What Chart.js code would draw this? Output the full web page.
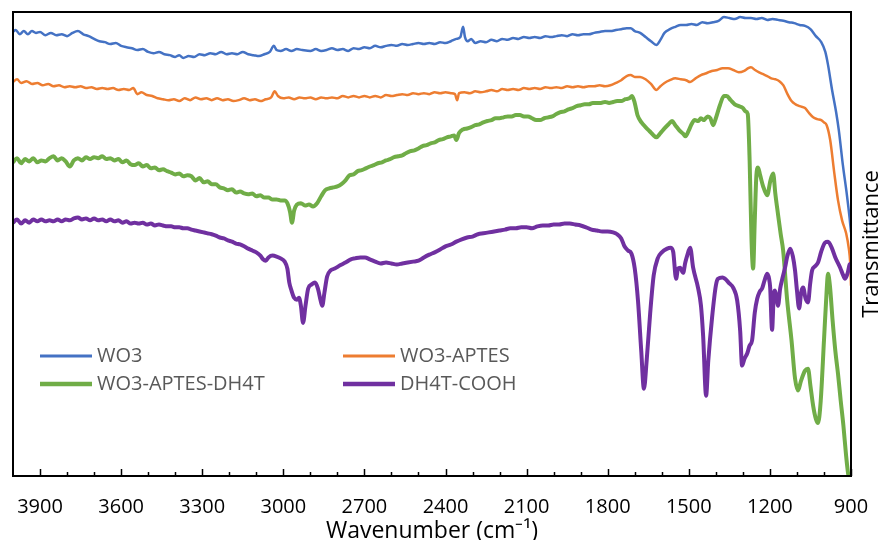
<!DOCTYPE html>
<html>
<head>
<meta charset="utf-8">
<title>FTIR spectra</title>
<script src="https://cdn.jsdelivr.net/npm/chart.js@4.4.0/dist/chart.umd.min.js"></script>
<style>
  html, body { margin: 0; padding: 0; background: #fff; }
  #wrap { width: 885px; height: 540px; }
</style>
</head>
<body>
<div id="wrap"><canvas id="ftir"></canvas></div>
<script>
// [wavenumber cm-1, transmittance a.u.]
const wo3Spectrum = [
  [4000,95.7],[3990,96.1],[3975,95.2],[3960,95.9],[3945,95.2],[3930,95.9],[3915,95.5],[3900,95.7],
  [3880,95.0],[3860,95.5],[3840,95.0],[3820,95.2],[3800,94.8],[3780,95.5],[3760,95.9],[3740,95.2],
  [3720,94.8],[3700,94.2],[3680,93.7],[3660,93.5],[3640,93.1],[3620,93.3],[3600,92.7],[3580,92.4],
  [3560,92.2],[3540,91.8],[3520,92.0],[3500,91.4],[3480,91.1],[3460,91.4],[3440,90.9],[3420,90.7],
  [3400,90.3],[3385,90.7],[3370,90.1],[3350,90.5],[3330,90.3],[3310,90.9],[3290,90.7],[3270,91.1],
  [3250,90.9],[3230,91.4],[3210,90.9],[3190,91.1],[3170,90.9],[3150,91.4],[3130,90.9],[3110,90.7],
  [3090,90.5],[3070,90.9],[3050,91.4],[3035,92.7],[3025,91.8],[3010,91.6],[2990,92.0],[2970,91.6],
  [2950,92.0],[2930,91.8],[2900,91.6],[2880,92.0],[2860,91.6],[2840,91.8],[2820,92.2],[2800,91.8],
  [2780,92.0],[2760,91.6],[2740,92.2],[2720,92.0],[2700,92.4],[2680,92.2],[2660,92.7],[2640,92.4],
  [2620,92.7],[2600,92.9],[2580,92.7],[2560,93.1],[2540,92.9],[2520,93.1],[2500,93.3],[2480,93.1],
  [2460,93.3],[2440,93.1],[2420,93.5],[2400,93.3],[2380,93.7],[2360,94.2],[2345,94.6],[2335,96.8],
  [2328,94.6],[2318,93.7],[2305,94.2],[2290,93.3],[2270,93.7],[2250,93.5],[2230,94.0],[2210,93.7],
  [2190,94.2],[2170,94.0],[2150,94.4],[2130,94.2],[2110,94.6],[2090,94.4],[2070,94.6],[2050,94.4],
  [2030,94.8],[2010,94.6],[1990,94.8],[1970,95.0],[1950,94.8],[1930,95.2],[1910,95.0],[1890,95.2],
  [1870,95.2],[1850,95.5],[1830,95.7],[1810,95.9],[1790,95.9],[1770,96.1],[1750,96.3],[1730,96.5],
  [1715,96.5],[1700,95.9],[1680,95.5],[1660,94.6],[1640,93.7],[1620,92.9],[1605,94.0],[1590,95.5],
  [1570,96.3],[1550,96.8],[1530,97.2],[1510,97.2],[1490,97.4],[1470,97.2],[1450,97.8],[1430,97.6],
  [1410,97.8],[1390,98.1],[1370,98.9],[1350,98.7],[1330,98.5],[1310,98.9],[1290,98.7],[1270,98.7],
  [1250,98.5],[1230,98.7],[1210,98.3],[1190,98.5],[1170,98.3],[1150,98.1],[1130,97.8],[1110,97.6],
  [1090,97.2],[1070,97.0],[1050,96.3],[1030,94.8],[1010,93.5],[995,91.4],[985,88.6],[970,83.2],
  [955,78.4],[945,74.5],[930,67.0],[915,60.5],[905,55.5],[900,52.5]
];

const wo3AptesSpectrum = [
  [4000,84.9],[3985,85.5],[3970,84.7],[3950,85.1],[3930,84.5],[3910,84.7],[3890,84.2],[3870,84.5],
  [3850,84.0],[3830,84.2],[3810,83.8],[3790,84.0],[3770,83.8],[3750,84.0],[3730,83.6],[3710,83.8],
  [3690,83.4],[3670,83.6],[3650,83.4],[3630,83.6],[3610,83.2],[3590,83.4],[3570,83.2],[3555,83.6],
  [3540,82.3],[3525,82.7],[3505,82.1],[3485,81.9],[3465,81.4],[3445,81.2],[3425,81.0],[3405,81.2],
  [3385,80.8],[3365,81.4],[3345,81.0],[3325,81.6],[3305,81.2],[3285,81.4],[3265,81.0],[3245,81.4],
  [3225,81.0],[3205,81.2],[3185,80.8],[3165,81.0],[3145,81.4],[3125,81.0],[3105,81.2],[3085,80.8],
  [3065,81.2],[3045,81.6],[3032,82.9],[3020,81.9],[3000,81.4],[2980,81.6],[2960,81.2],[2940,81.6],
  [2920,81.4],[2900,81.6],[2880,81.2],[2860,81.6],[2840,81.4],[2820,81.6],[2800,81.4],[2780,81.9],
  [2760,81.6],[2740,81.9],[2720,81.6],[2700,81.9],[2680,81.6],[2660,81.9],[2640,81.6],[2620,82.1],
  [2600,81.9],[2580,82.1],[2560,82.3],[2540,82.1],[2520,82.5],[2500,82.3],[2480,82.5],[2460,82.3],
  [2440,82.7],[2420,82.5],[2400,82.7],[2380,82.5],[2365,82.3],[2357,81.0],[2350,82.5],[2330,82.7],
  [2310,82.5],[2290,82.9],[2270,82.7],[2250,82.9],[2230,83.2],[2210,82.9],[2190,83.4],[2170,83.2],
  [2150,83.4],[2130,83.2],[2110,83.6],[2090,83.4],[2070,83.6],[2050,83.4],[2030,83.8],[2010,83.6],
  [1990,83.8],[1970,83.6],[1950,84.0],[1930,83.8],[1910,84.0],[1890,83.8],[1870,84.0],[1850,84.0],
  [1830,84.2],[1810,84.0],[1790,84.2],[1770,84.7],[1750,85.3],[1730,86.2],[1715,86.4],[1700,86.0],
  [1680,86.0],[1660,85.5],[1640,84.5],[1620,83.2],[1605,84.0],[1590,84.7],[1570,85.3],[1550,85.7],
  [1530,85.5],[1510,85.3],[1495,84.9],[1475,85.7],[1455,86.4],[1435,86.8],[1415,87.3],[1395,87.5],
  [1375,87.9],[1355,87.9],[1335,87.5],[1315,87.0],[1295,87.3],[1280,87.9],[1270,88.1],[1255,87.5],
  [1240,87.0],[1225,86.6],[1210,86.2],[1195,85.7],[1180,85.5],[1165,85.1],[1150,84.2],[1135,82.3],
  [1120,80.8],[1105,80.1],[1090,79.7],[1070,79.3],[1055,78.2],[1040,77.3],[1025,76.9],[1010,76.7],
  [1000,76.2],[990,75.6],[977,72.4],[962,65.4],[948,59.4],[933,55.1],[918,52.3],[908,49.0],
  [903,46.0],[900,41.0]
];

const wo3AptesDh4tSpectrum = [
  [4000,67.6],[3985,68.5],[3970,67.4],[3955,68.3],[3940,67.8],[3925,68.5],[3910,67.6],[3895,68.0],
  [3880,67.8],[3865,68.5],[3850,68.9],[3835,68.0],[3820,68.5],[3805,67.8],[3790,66.7],[3775,68.0],
  [3760,68.5],[3745,68.0],[3730,68.7],[3715,68.3],[3700,68.7],[3685,68.5],[3670,68.9],[3655,68.3],
  [3640,68.5],[3625,68.0],[3610,68.3],[3595,67.6],[3580,68.0],[3565,67.2],[3550,67.0],[3535,67.4],
  [3520,66.7],[3505,67.0],[3490,66.3],[3475,66.5],[3460,65.9],[3445,66.1],[3430,65.7],[3415,65.4],
  [3400,65.0],[3385,65.2],[3370,64.6],[3355,64.8],[3340,64.6],[3325,63.7],[3310,64.2],[3295,63.3],
  [3280,63.5],[3265,62.9],[3250,62.9],[3235,62.2],[3220,62.0],[3205,61.6],[3190,61.8],[3175,61.1],
  [3160,61.3],[3145,60.9],[3130,60.7],[3115,60.9],[3100,60.3],[3085,60.5],[3070,60.0],[3055,60.0],
  [3040,59.6],[3025,59.6],[3010,59.4],[2995,59.4],[2985,58.8],[2975,56.9],[2968,54.6],[2960,57.2],
  [2950,58.5],[2935,58.8],[2920,58.3],[2905,58.5],[2890,58.1],[2875,58.8],[2860,60.3],[2845,61.6],
  [2830,62.0],[2815,62.2],[2800,62.4],[2785,62.9],[2770,63.7],[2755,64.8],[2740,65.0],[2725,65.7],
  [2710,65.9],[2695,66.3],[2680,66.7],[2665,67.0],[2650,67.4],[2635,67.6],[2620,68.0],[2605,68.3],
  [2590,68.7],[2575,68.9],[2560,69.1],[2545,69.6],[2530,70.0],[2515,70.2],[2500,70.6],[2485,71.1],
  [2470,71.3],[2455,71.7],[2440,71.9],[2425,72.4],[2410,72.6],[2395,73.0],[2380,73.2],[2368,73.4],
  [2360,72.4],[2350,73.9],[2335,74.7],[2320,74.9],[2305,75.2],[2290,75.6],[2275,75.8],[2260,76.2],
  [2245,76.5],[2230,76.7],[2215,77.1],[2200,77.1],[2185,77.3],[2170,77.5],[2155,77.5],[2140,77.8],
  [2125,77.8],[2110,77.5],[2095,77.5],[2080,77.1],[2065,76.7],[2050,76.7],[2035,77.1],[2020,77.3],
  [2005,77.5],[1990,78.0],[1975,78.4],[1960,78.6],[1945,79.0],[1930,79.3],[1915,79.7],[1900,79.9],
  [1885,80.1],[1870,80.1],[1855,80.4],[1840,80.4],[1825,80.4],[1810,80.6],[1795,80.4],[1780,80.6],
  [1765,80.8],[1750,80.8],[1735,81.2],[1720,81.4],[1710,81.9],[1700,80.4],[1690,77.8],[1675,76.2],
  [1660,75.2],[1645,74.3],[1630,73.4],[1620,73.0],[1605,73.9],[1590,74.9],[1575,75.8],[1562,76.5],
  [1550,75.6],[1535,74.5],[1520,73.7],[1512,73.2],[1500,74.5],[1490,75.8],[1478,76.7],[1465,76.5],
  [1455,77.1],[1445,76.7],[1430,77.5],[1420,77.1],[1410,75.6],[1400,77.1],[1385,79.9],[1370,81.9],
  [1360,81.9],[1345,81.0],[1330,80.1],[1315,79.7],[1300,79.3],[1290,78.6],[1282,78.0],[1275,68.0],
  [1268,50.8],[1262,44.7],[1256,55.1],[1250,64.8],[1244,66.5],[1236,64.8],[1226,62.6],[1210,60.5],
  [1198,63.7],[1188,65.2],[1180,60.9],[1170,56.4],[1160,52.1],[1151,48.6],[1136,37.8],[1120,29.2],
  [1107,21.0],[1096,18.4],[1085,20.5],[1070,22.7],[1059,23.1],[1050,19.4],[1040,15.1],[1030,12.3],
  [1022,11.4],[1012,16.2],[1000,29.2],[990,40.0],[985,43.6],[978,41.0],[968,33.5],[958,27.0],
  [948,22.0],[938,16.2],[928,10.8],[918,4.3],[912,1.1],[908,-0.5]
];

const dh4tCoohSpectrum = [
  [4000,54.6],[3985,55.3],[3970,54.4],[3955,55.1],[3940,54.6],[3925,55.3],[3910,54.9],[3895,55.3],
  [3880,54.9],[3865,55.1],[3850,54.9],[3835,55.3],[3820,54.9],[3805,55.3],[3790,55.1],[3775,55.5],
  [3760,55.7],[3745,55.3],[3730,55.5],[3715,55.1],[3700,55.5],[3685,55.1],[3670,55.3],[3655,54.9],
  [3640,55.3],[3625,54.9],[3610,55.1],[3595,54.6],[3580,54.9],[3565,54.4],[3550,54.6],[3535,54.4],
  [3520,54.6],[3505,54.2],[3490,54.4],[3475,54.0],[3460,54.2],[3445,54.0],[3430,53.8],[3415,53.8],
  [3400,53.6],[3385,53.6],[3370,53.4],[3355,53.4],[3340,53.1],[3325,52.9],[3310,52.7],[3295,52.5],
  [3280,52.3],[3265,52.1],[3250,51.8],[3235,51.4],[3220,51.2],[3205,50.8],[3190,50.5],[3175,50.1],
  [3160,49.9],[3145,49.5],[3130,49.0],[3115,48.6],[3100,48.2],[3085,47.5],[3075,46.7],[3065,46.4],
  [3055,47.1],[3040,47.5],[3025,47.3],[3010,46.9],[2995,46.2],[2985,44.7],[2978,41.7],[2970,40.0],
  [2960,38.4],[2950,38.0],[2942,38.4],[2935,36.7],[2927,33.0],[2918,36.7],[2908,40.4],[2895,41.3],
  [2883,41.7],[2872,40.4],[2862,37.8],[2856,36.7],[2848,39.5],[2838,43.0],[2825,44.3],[2810,44.7],
  [2790,45.4],[2770,46.0],[2750,46.7],[2735,46.9],[2715,47.1],[2698,47.1],[2680,46.7],[2660,46.2],
  [2640,45.8],[2620,46.0],[2600,45.8],[2580,45.6],[2560,45.8],[2540,46.0],[2520,46.2],[2500,46.4],
  [2480,47.1],[2460,47.7],[2440,48.2],[2420,48.8],[2400,49.5],[2380,49.9],[2360,50.5],[2340,51.0],
  [2320,51.4],[2300,51.6],[2280,52.1],[2260,52.3],[2240,52.5],[2220,52.7],[2200,52.9],[2180,53.1],
  [2160,53.4],[2140,53.4],[2120,53.6],[2100,53.6],[2080,53.4],[2060,53.8],[2040,54.0],[2020,54.0],
  [2000,54.2],[1980,54.2],[1960,54.4],[1940,54.4],[1920,54.2],[1900,54.0],[1880,53.6],[1860,53.1],
  [1840,52.9],[1820,52.7],[1800,52.7],[1780,52.5],[1765,52.1],[1750,51.2],[1738,49.5],[1725,48.6],
  [1712,47.9],[1700,44.7],[1688,37.8],[1676,27.0],[1666,18.8],[1656,24.8],[1643,35.0],[1630,43.2],
  [1615,46.9],[1600,48.2],[1580,49.0],[1568,49.2],[1558,48.4],[1547,42.5],[1540,44.7],[1532,44.9],
  [1521,43.8],[1513,46.0],[1506,47.5],[1495,49.2],[1484,44.9],[1466,40.6],[1455,36.7],[1447,30.2],
  [1436,17.3],[1428,24.8],[1414,34.1],[1400,41.0],[1392,42.5],[1375,42.8],[1366,42.5],[1350,41.5],
  [1336,40.6],[1321,37.8],[1310,31.3],[1303,23.8],[1294,25.3],[1284,26.4],[1275,28.1],[1266,29.2],
  [1256,35.2],[1247,38.2],[1238,39.7],[1229,40.4],[1220,42.1],[1210,43.6],[1203,42.5],[1199,40.6],
  [1192,31.5],[1186,38.7],[1181,40.0],[1175,38.2],[1170,36.7],[1162,40.4],[1152,43.0],[1144,44.9],
  [1135,47.5],[1125,49.0],[1115,47.3],[1107,44.3],[1100,40.0],[1092,36.1],[1084,39.7],[1077,40.6],
  [1068,38.2],[1059,37.4],[1051,41.5],[1044,44.3],[1033,45.2],[1022,46.0],[1010,48.4],[996,50.3],
  [985,50.5],[970,49.0],[958,47.1],[940,44.9],[930,43.4],[922,42.5],[912,43.8],[905,45.6],[900,45.8]
];

const seriesNames = ['WO3', 'WO3-APTES', 'WO3-APTES-DH4T', 'DH4T-COOH'];
const seriesColors = ['#4472C4', '#ED7D31', '#70AD47', '#7030A0'];
const seriesWidths = [2.5, 2.5, 4, 4];
const spectra = [wo3Spectrum, wo3AptesSpectrum, wo3AptesDh4tSpectrum, dh4tCoohSpectrum];

// x axis: minor tick every 100, labelled every 300
const wnMin = 900, wnMax = 4000;
const tickStep = 100, labelStep = 300;

const FONT = '"Open Sans", "Liberation Sans", sans-serif';

// frame, inward tick marks, right-hand axis title and the 2x2 legend
const frameLegend = {
  id: 'frameLegend',
  afterDatasetsDraw(chart) {
    const { ctx, chartArea: a } = chart;
    const x = chart.scales.x;
    ctx.save();
    ctx.strokeStyle = '#000';
    ctx.lineWidth = 2;
    ctx.strokeRect(a.left, a.top, a.right - a.left, a.bottom - a.top);

    ctx.lineWidth = 1.5;
    x.ticks.forEach(t => {
      const px = Math.round(x.getPixelForValue(t.value)) + 0.5;
      const len = (t.value - wnMin) % labelStep === 0 ? 7 : 4;
      ctx.beginPath();
      ctx.moveTo(px, a.bottom);
      ctx.lineTo(px, a.bottom - len);
      ctx.stroke();
    });

    // y title, reading bottom to top
    ctx.save();
    ctx.translate(a.right + 21, (a.top + a.bottom) / 2);
    ctx.rotate(-Math.PI / 2);
    ctx.fillStyle = '#000';
    ctx.font = '22px ' + FONT;
    ctx.textAlign = 'center';
    ctx.textBaseline = 'middle';
    ctx.fillText('Transmittance', 0, 0);
    ctx.restore();

    // legend
    ctx.font = '20px ' + FONT;
    ctx.textAlign = 'left';
    ctx.textBaseline = 'middle';
    chart.data.datasets.forEach((ds, i) => {
      const col = i % 2, row = Math.floor(i / 2);
      const lx = a.left + 27 + col * 303;
      const ly = a.top + 344 + row * 28;
      ctx.strokeStyle = ds.borderColor;
      ctx.lineWidth = ds.borderWidth + 0.5;
      ctx.beginPath();
      ctx.moveTo(lx, ly);
      ctx.lineTo(lx + 52, ly);
      ctx.stroke();
      ctx.fillStyle = '#595959';
      ctx.fillText(ds.label, lx + 57, ly);
    });
    ctx.restore();
  }
};

new Chart(document.getElementById('ftir'), {
  type: 'line',
  data: {
    datasets: spectra.map((s, i) => ({
      label: seriesNames[i],
      data: s.map(([wn, t]) => ({ x: wn, y: t })),
      borderColor: seriesColors[i],
      borderWidth: seriesWidths[i],
      pointRadius: 0,
      cubicInterpolationMode: 'monotone',
      order: seriesNames.length - 1 - i
    }))
  },
  options: {
    responsive: true,
    maintainAspectRatio: false,
    animation: false,
    devicePixelRatio: 1,
    layout: { padding: { left: 13, right: 34, top: 12, bottom: 0 } },
    plugins: { legend: { display: false }, tooltip: { enabled: false } },
    scales: {
      x: {
        type: 'linear',
        reverse: true,
        min: wnMin,
        max: wnMax,
        grid: { display: false, drawTicks: false },
        border: { display: false },
        afterBuildTicks: scale => {
          const ticks = [];
          for (let v = wnMin; v < wnMax; v += tickStep) ticks.push({ value: v });
          scale.ticks = ticks;
        },
        ticks: {
          autoSkip: false,
          maxRotation: 0,
          padding: 21,
          color: '#000',
          font: { family: FONT, size: 20, lineHeight: 1 },
          callback: v => ((v - wnMin) % labelStep === 0 ? String(v) : '')
        },
        title: {
          display: true,
          text: 'Wavenumber (cm⁻¹)',
          color: '#000',
          font: { family: FONT, size: 23, lineHeight: 1 },
          padding: { top: -18, bottom: -3 }
        }
      },
      y: { display: false, min: 0, max: 100 }
    }
  },
  plugins: [frameLegend]
});
</script>
</body>
</html>
